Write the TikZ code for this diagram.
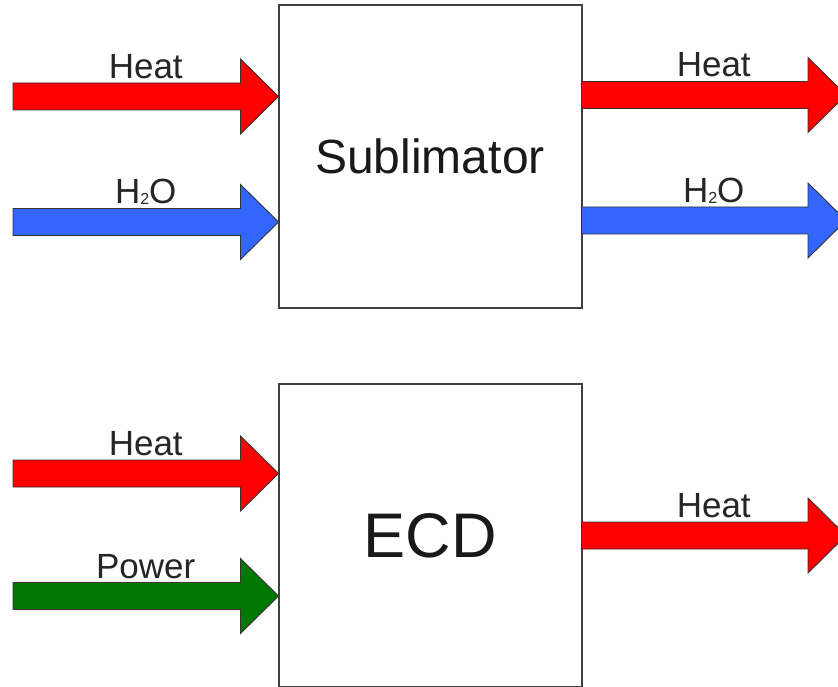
\documentclass[tikz,border=0pt]{standalone}
\usepackage{fontspec}
\setmainfont{Liberation Sans}
\usepackage{xcolor}
\usetikzlibrary{calc, positioning}

\definecolor{heatred}{RGB}{255,0,0}
\definecolor{waterblue}{RGB}{51,102,255}
\definecolor{powergreen}{RGB}{0,119,0}
\newcommand{\hto}{H\raisebox{-1pt}{\fontsize{16}{16}\selectfont 2}O}

\begin{document}
\begin{tikzpicture}[
  x=1pt, y=-1pt,
  node distance=76pt,
  unit/.style={rectangle, draw=black!75, line width=2pt, outer sep=0pt, minimum width=303pt, minimum height=303pt, text=black!90},
  flow/.style={draw=black!80, line width=0.9pt, to path={let \p1=(\tikztostart), \p2=(\tikztotarget) in
    (\x1,\y1+13.5pt) -- (\x2-38pt,\y1+13.5pt) -- (\x2-38pt,\y1+37.5pt) -- (\x2,\y1)
    -- (\x2-38pt,\y1-37.5pt) -- (\x2-38pt,\y1-13.5pt) -- (\x1,\y1-13.5pt) -- cycle}},
  lbl/.style={anchor=base, yshift=18pt, font=\fontsize{35}{40}\selectfont, text=black!85}
]
  \useasboundingbox (0,0) rectangle (838,687);
  \fill[white] (0,0) rectangle (838,687);

  % the two units
  \node[unit, font=\fontsize{48}{56}\selectfont] (sub) at (430,156.5) {Sublimator};
  \node[unit, below=of sub, font=\fontsize{63}{70}\selectfont] (ecd) {ECD};

  % free ends of the flows
  \coordinate (subheatin) at (13,96.5);
  \coordinate (subh2oin) at (13,222);
  \coordinate (subheatout) at (846,95);
  \coordinate (subh2oout) at (846,220.5);
  \coordinate (ecdheatin) at (13,473.5);
  \coordinate (ecdpowin) at (13,596);
  \coordinate (ecdheatout) at (846,535.5);

  % sublimator flows
  \draw[flow, fill=heatred] (subheatin) to (sub.west |- subheatin);
  \draw[flow, fill=waterblue] (subh2oin) to (sub.west |- subh2oin);
  \draw[flow, fill=heatred] (sub.east |- subheatout) to (subheatout);
  \draw[flow, fill=waterblue] (sub.east |- subh2oout) to (subh2oout);

  % ECD flows
  \draw[flow, fill=heatred] (ecdheatin) to (ecd.west |- ecdheatin);
  \draw[flow, fill=powergreen] (ecdpowin) to (ecd.west |- ecdpowin);
  \draw[flow, fill=heatred] (ecd.east |- ecdheatout) to (ecdheatout);

  % labels
  \node[lbl] (subheatinlbl) at ($(subheatin)!.5!(sub.west |- subheatin)$) {Heat};
  \node[lbl] (subh2oinlbl) at ($(subh2oin)!.5!(sub.west |- subh2oin)$) {\hto};
  \node[lbl] (subheatoutlbl) at ($(sub.east |- subheatout)!.5!(subheatout)$) {Heat};
  \node[lbl] (subh2ooutlbl) at ($(sub.east |- subh2oout)!.5!(subh2oout)$) {\hto};
  \node[lbl] (ecdheatinlbl) at ($(ecdheatin)!.5!(ecd.west |- ecdheatin)$) {Heat};
  \node[lbl] (ecdpowinlbl) at ($(ecdpowin)!.5!(ecd.west |- ecdpowin)$) {Power};
  \node[lbl] (ecdheatoutlbl) at ($(ecd.east |- ecdheatout)!.5!(ecdheatout)$) {Heat};
\end{tikzpicture}
\end{document}
